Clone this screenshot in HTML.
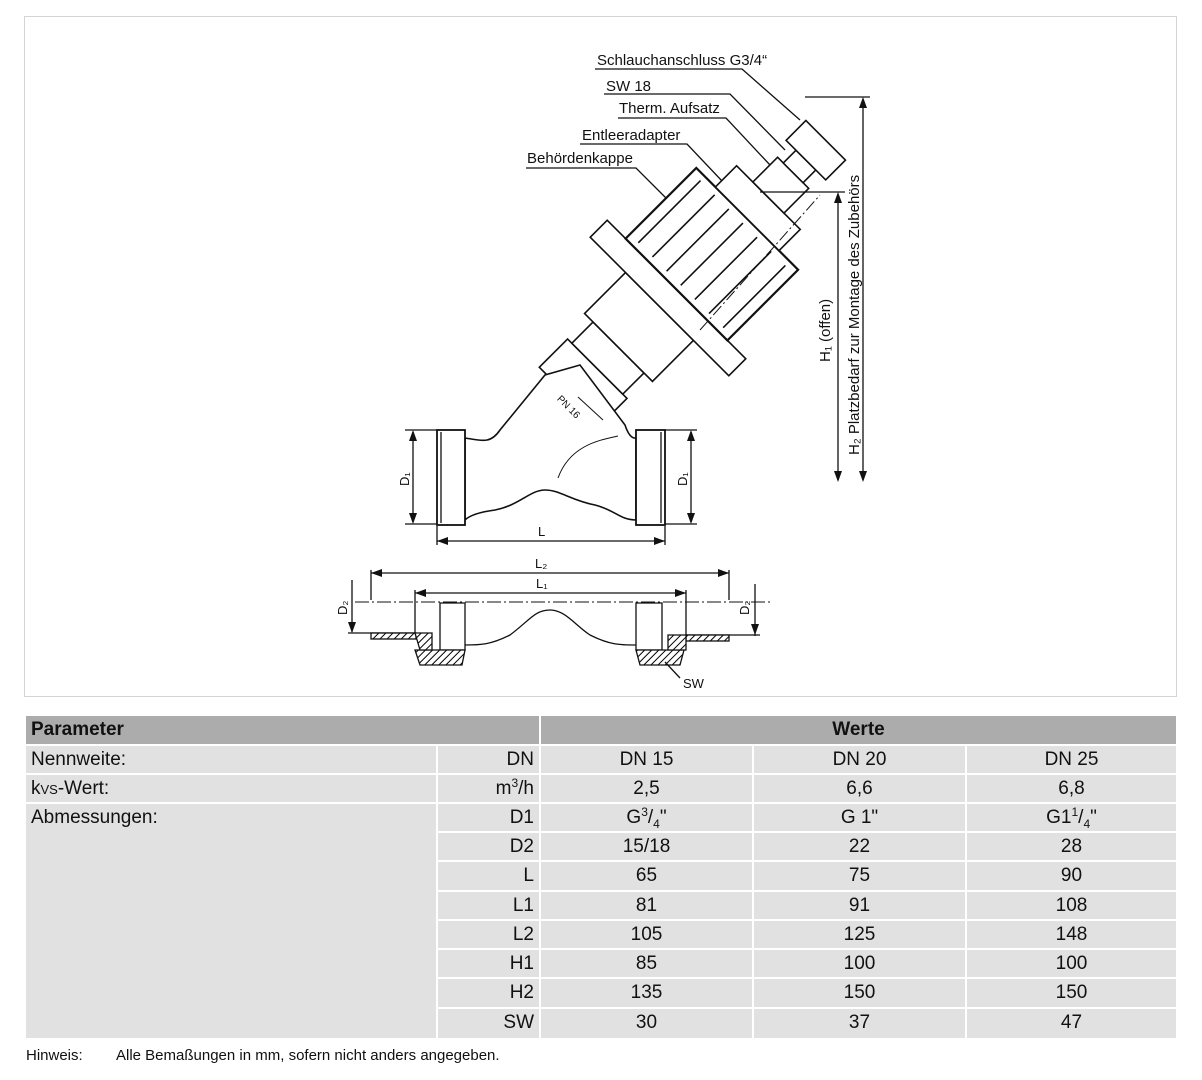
<!DOCTYPE html>
<html><head><meta charset="utf-8"><style>
body{margin:0;background:#fff;width:1202px;height:1080px;position:relative;overflow:hidden;font-family:"Liberation Sans",sans-serif;}
.c{position:absolute;background:#e1e1e1;font-size:19px;line-height:28px;box-sizing:border-box;color:#111;}
.h{background:#acacac;font-weight:bold;}
.l{padding-left:5px}.r{text-align:right;padding-right:5px}.m{text-align:center}
sup{font-size:12px;line-height:0;vertical-align:7px}
</style></head><body>
<div style="position:absolute;left:24px;top:16px;width:1153px;height:681px;border:1px solid #d4d4d4;box-sizing:border-box"></div>
<svg width="1202" height="700" style="position:absolute;left:0;top:0" font-family="Liberation Sans, sans-serif">
<defs><pattern id="hat" width="5" height="5" patternUnits="userSpaceOnUse" patternTransform="rotate(45)"><rect width="5" height="5" fill="#fff"/><line x1="0" y1="0" x2="0" y2="5" stroke="#000" stroke-width="2"/></pattern></defs>
<g stroke="#111" fill="none" stroke-width="1.3">
<g font-size="15" fill="#111" stroke="none">
<text x="597" y="65">Schlauchanschluss G3/4“</text>
<text x="606" y="91">SW 18</text>
<text x="619" y="113">Therm. Aufsatz</text>
<text x="582" y="140">Entleeradapter</text>
<text x="527" y="163">Behördenkappe</text>
</g>
<polyline points="595,69 742,69 800,120"/>
<polyline points="604,94 730,94 785,150"/>
<polyline points="618,118 726,118 770,165"/>
<polyline points="580,144 687,144 740,200"/>
<polyline points="526,168 636,168 675,207"/>
<g transform="translate(668,298) rotate(-45)" stroke-width="1.6" fill="#fff">
<rect x="-140" y="-42" width="40" height="84"/>
<rect x="-100" y="-36" width="30" height="72"/>
<rect x="-70" y="-48" width="58" height="96"/>
<rect x="-12" y="-98" width="24" height="196"/>
<rect x="12" y="-72" width="100" height="144" stroke-width="2.2"/>
<line x1="18" y1="-60" x2="106" y2="-60"/><line x1="18" y1="-40" x2="106" y2="-40"/><line x1="18" y1="-20" x2="106" y2="-20"/><line x1="18" y1="0" x2="106" y2="0"/><line x1="18" y1="20" x2="106" y2="20"/><line x1="18" y1="40" x2="106" y2="40"/><line x1="18" y1="60" x2="106" y2="60"/>
<rect x="112" y="-45" width="30" height="90"/>
<rect x="142" y="-22" width="35" height="44"/>
<rect x="177" y="-14" width="18" height="28"/>
<rect x="195" y="-28" width="28" height="56"/>
</g>
<line x1="700" y1="330" x2="820" y2="195" stroke-dasharray="12,3,2,3" stroke-width="1"/>
<path d="M465,438 C480,440 490,445 500,430 L545,375 L580,365 L625,425 C630,440 635,438 636,438 L636,520 C620,520 615,510 595,505 C570,500 560,490 545,490 C530,490 520,505 495,510 C480,512 470,515 465,520 Z" fill="#fff" stroke-width="1.6"/>
<rect x="437" y="430" width="28" height="95" fill="#fff" stroke-width="1.8"/>
<line x1="441" y1="432" x2="441" y2="523"/>
<rect x="636" y="430" width="29" height="95" fill="#fff" stroke-width="1.8"/>
<line x1="661" y1="432" x2="661" y2="523"/>
<path d="M558,478 C570,445 600,440 618,436" stroke-width="1"/>
<line x1="578" y1="397" x2="603" y2="420" stroke-width="1"/>
<text x="550" y="405" font-size="10" fill="#111" stroke="none" transform="rotate(45 560 410)">PN 16</text>
<line x1="405" y1="430" x2="437" y2="430"/><line x1="405" y1="524" x2="437" y2="524"/>
<line x1="413" y1="432" x2="413" y2="522"/>
<line x1="665" y1="430" x2="697" y2="430"/><line x1="665" y1="524" x2="697" y2="524"/>
<line x1="691" y1="432" x2="691" y2="522"/>
<line x1="437" y1="526" x2="437" y2="545"/><line x1="665" y1="526" x2="665" y2="545"/>
<line x1="437" y1="541" x2="665" y2="541"/>
<g font-size="13" fill="#111" stroke="none">
<text x="0" y="0" transform="translate(409,486) rotate(-90)">D₁</text>
<text x="0" y="0" transform="translate(687,486) rotate(-90)">D₁</text>
<text x="538" y="536">L</text>
<text x="535" y="568">L₂</text>
<text x="536" y="588">L₁</text>
<text x="0" y="0" transform="translate(347,615) rotate(-90)">D₂</text>
<text x="0" y="0" transform="translate(749,615) rotate(-90)">D₂</text>
<text x="683" y="688">SW</text>
</g>
<g font-size="15" fill="#111" stroke="none">
<text x="0" y="0" transform="translate(830,362) rotate(-90)">H₁ (offen)</text>
<text x="0" y="0" transform="translate(859,455) rotate(-90)">H₂ Platzbedarf zur Montage des Zubehörs</text>
</g>
<line x1="371" y1="573" x2="729" y2="573"/><line x1="371" y1="570" x2="371" y2="600"/><line x1="729" y1="570" x2="729" y2="600"/>
<line x1="415" y1="593" x2="686" y2="593"/><line x1="415" y1="590" x2="415" y2="636"/><line x1="686" y1="590" x2="686" y2="636"/>
<line x1="355" y1="602" x2="770" y2="602" stroke-dasharray="14,3,2,3" stroke-width="1"/>
<line x1="352" y1="580" x2="352" y2="632"/><line x1="755" y1="584" x2="755" y2="636"/>
<line x1="348" y1="633" x2="415" y2="633"/><line x1="686" y1="635" x2="760" y2="635"/>
<rect x="371" y="633" width="45" height="6" fill="url(#hat)"/>
<rect x="686" y="635" width="43" height="6" fill="url(#hat)"/>
<path d="M440,603 L465,603 L465,650 L440,650 Z" fill="#fff"/>
<path d="M636,603 L662,603 L662,650 L636,650 Z" fill="#fff"/>
<path d="M465,645 C480,645 490,645 510,635 C530,620 535,610 550,610 C565,610 575,625 590,635 C610,645 620,645 636,645" />
<path d="M415,650 L465,650 L462,665 L420,665 Z" fill="url(#hat)"/>
<path d="M636,650 L684,650 L680,665 L640,665 Z" fill="url(#hat)"/>
<path d="M415,633 L432,633 L432,650 L420,650 Z" fill="url(#hat)"/>
<path d="M668,635 L686,635 L686,650 L668,650 Z" fill="url(#hat)"/>
<line x1="665" y1="662" x2="680" y2="678"/>
<line x1="805" y1="97" x2="870" y2="97"/><line x1="863" y1="100" x2="863" y2="480"/>
<line x1="760" y1="192" x2="845" y2="192"/><line x1="838" y1="195" x2="838" y2="480"/>
</g>
<g fill="#111">
<polygon points="413,430 409,441 417,441"/><polygon points="413,524 409,513 417,513"/>
<polygon points="691,430 687,441 695,441"/><polygon points="691,524 687,513 695,513"/>
<polygon points="437,541 448,537 448,545"/><polygon points="665,541 654,537 654,545"/>
<polygon points="371,573 382,569 382,577"/><polygon points="729,573 718,569 718,577"/>
<polygon points="415,593 426,589 426,597"/><polygon points="686,593 675,589 675,597"/>
<polygon points="352,633 348,622 356,622"/><polygon points="755,635 751,624 759,624"/>
<polygon points="863,97 859,108 867,108"/><polygon points="863,482 859,471 867,471"/>
<polygon points="838,192 834,203 842,203"/><polygon points="838,482 834,471 842,471"/>
</g>
</svg>

<div class="c h l" style="left:26px;top:716px;width:513px;height:28px">Parameter</div>
<div class="c h m" style="left:541px;top:716px;width:635px;height:28px">Werte</div>

<div class="c l" style="left:26px;top:746px;width:410px;height:27px">Nennweite:</div>
<div class="c l" style="left:26px;top:775px;width:410px;height:27px">k<span style="font-size:13px">VS</span>-Wert:</div>
<div class="c l" style="left:26px;top:804px;width:410px;height:234px">Abmessungen:</div>

<div class="c r" style="left:438px;top:746px;width:101px;height:27px">DN</div>
<div class="c r" style="left:438px;top:775px;width:101px;height:27px">m<sup>3</sup>/h</div>
<div class="c r" style="left:438px;top:804px;width:101px;height:27px">D1</div>
<div class="c r" style="left:438px;top:833px;width:101px;height:27px">D2</div>
<div class="c r" style="left:438px;top:862px;width:101px;height:28px">L</div>
<div class="c r" style="left:438px;top:892px;width:101px;height:27px">L1</div>
<div class="c r" style="left:438px;top:921px;width:101px;height:27px">L2</div>
<div class="c r" style="left:438px;top:950px;width:101px;height:27px">H1</div>
<div class="c r" style="left:438px;top:979px;width:101px;height:28px">H2</div>
<div class="c r" style="left:438px;top:1009px;width:101px;height:29px">SW</div>

<div class="c m" style="left:541px;top:746px;width:211px;height:27px">DN 15</div>
<div class="c m" style="left:754px;top:746px;width:211px;height:27px">DN 20</div>
<div class="c m" style="left:967px;top:746px;width:209px;height:27px">DN 25</div>
<div class="c m" style="left:541px;top:775px;width:211px;height:27px">2,5</div>
<div class="c m" style="left:754px;top:775px;width:211px;height:27px">6,6</div>
<div class="c m" style="left:967px;top:775px;width:209px;height:27px">6,8</div>
<div class="c m" style="left:541px;top:804px;width:211px;height:27px">G<sup>3</sup>/<sub style="font-size:12px">4</sub>"</div>
<div class="c m" style="left:754px;top:804px;width:211px;height:27px">G 1"</div>
<div class="c m" style="left:967px;top:804px;width:209px;height:27px">G1<sup>1</sup>/<sub style="font-size:12px">4</sub>"</div>
<div class="c m" style="left:541px;top:833px;width:211px;height:27px">15/18</div>
<div class="c m" style="left:754px;top:833px;width:211px;height:27px">22</div>
<div class="c m" style="left:967px;top:833px;width:209px;height:27px">28</div>
<div class="c m" style="left:541px;top:862px;width:211px;height:28px">65</div>
<div class="c m" style="left:754px;top:862px;width:211px;height:28px">75</div>
<div class="c m" style="left:967px;top:862px;width:209px;height:28px">90</div>
<div class="c m" style="left:541px;top:892px;width:211px;height:27px">81</div>
<div class="c m" style="left:754px;top:892px;width:211px;height:27px">91</div>
<div class="c m" style="left:967px;top:892px;width:209px;height:27px">108</div>
<div class="c m" style="left:541px;top:921px;width:211px;height:27px">105</div>
<div class="c m" style="left:754px;top:921px;width:211px;height:27px">125</div>
<div class="c m" style="left:967px;top:921px;width:209px;height:27px">148</div>
<div class="c m" style="left:541px;top:950px;width:211px;height:27px">85</div>
<div class="c m" style="left:754px;top:950px;width:211px;height:27px">100</div>
<div class="c m" style="left:967px;top:950px;width:209px;height:27px">100</div>
<div class="c m" style="left:541px;top:979px;width:211px;height:28px">135</div>
<div class="c m" style="left:754px;top:979px;width:211px;height:28px">150</div>
<div class="c m" style="left:967px;top:979px;width:209px;height:28px">150</div>
<div class="c m" style="left:541px;top:1009px;width:211px;height:29px">30</div>
<div class="c m" style="left:754px;top:1009px;width:211px;height:29px">37</div>
<div class="c m" style="left:967px;top:1009px;width:209px;height:29px">47</div>

<div style="position:absolute;left:26px;top:1047px;font-size:15px;color:#111">Hinweis:<span style="position:absolute;left:90px;white-space:nowrap">Alle Bemaßungen in mm, sofern nicht anders angegeben.</span></div>
</body></html>
